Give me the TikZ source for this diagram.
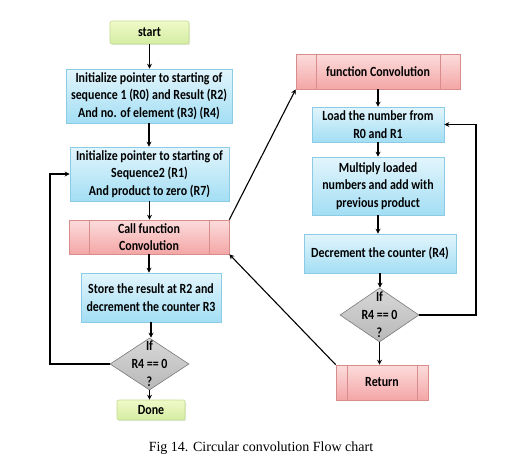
\documentclass[tikz,border=0pt]{standalone}
\usepackage{fontspec}
\setmainfont{Liberation Serif}
\newfontfamily\boxfont{Carlito}[FakeStretch=0.85]
\usetikzlibrary{shapes.geometric,arrows.meta,shadows}
\definecolor{blueT}{HTML}{E2F5FC}
\definecolor{blueB}{HTML}{A3DEF4}
\definecolor{blueD}{HTML}{8CCBE6}
\definecolor{pinkT}{HTML}{FCDCDC}
\definecolor{pinkB}{HTML}{F4A6A6}
\definecolor{pinkD}{HTML}{D98C8C}
\definecolor{greenT}{HTML}{F0F9C8}
\definecolor{greenB}{HTML}{D4EDA2}
\definecolor{greenD}{HTML}{C2DC8E}
\definecolor{grayT}{HTML}{D8D8D8}
\definecolor{grayB}{HTML}{B8B8B8}
\definecolor{grayD}{HTML}{7A7A7A}
\begin{document}
\begin{tikzpicture}[x=1pt,y=-1pt,
  boxtext/.style={font=\boxfont\bfseries\fontsize{14}{17.7}\selectfont, align=center, inner sep=0pt, text=black},
  shad/.style={drop shadow={opacity=0.18, shadow xshift=1.2pt, shadow yshift=-1.2pt}},
  bluebox/.style={boxtext, rectangle, draw=blueD, line width=0.6pt, top color=blueT, bottom color=blueB, shad},
  pinkbox/.style={boxtext, rectangle, draw=pinkD, line width=0.6pt, top color=pinkT, bottom color=pinkB, shad},
  greenbox/.style={boxtext, rectangle, rounded corners=2pt, draw=greenD, line width=0.6pt, top color=greenT, bottom color=greenB, shad},
  decide/.style={diamond, draw=grayD, line width=0.6pt, top color=grayT, bottom color=grayB, inner sep=0pt, aspect=1.5},
  dtext/.style={boxtext, font=\boxfont\bfseries\fontsize{14}{18}\selectfont},
  pinkline/.style={draw=pinkD, line width=0.6pt},
  arr/.style={draw=black, line width=1.1pt, -{Stealth[length=5pt,width=5pt]}},
  conn/.style={draw=black, line width=1.1pt}
]
\useasboundingbox (0,0) rectangle (527,458);

% left column
\node[greenbox, minimum width=79pt, minimum height=23pt] (start) at (149.5,32.5) {start};
\node[bluebox, minimum width=166pt, minimum height=54pt] (i1) at (149,96)
  {Initialize pointer to starting of\\sequence 1 (R0) and Result (R2)\\And no. of element (R3) (R4)};
\node[bluebox, minimum width=159pt, minimum height=54pt] (i2) at (149.5,174)
  {Initialize pointer to starting of\\Sequence2 (R1)\\And product to zero (R7)};
\node[pinkbox, minimum width=160pt, minimum height=34pt] (cf) at (149,237)
  {Call function\\Convolution};
\node[bluebox, minimum width=140pt, minimum height=49pt] (st) at (151,297.5)
  {Store the result at R2 and\\decrement the counter R3};
\node[decide, minimum width=79pt, minimum height=52pt] (d1) at (149.5,364) {};
\node[dtext] (d1t) at (d1.center) {If\\R4 == 0\\?};
\node[greenbox, minimum width=68pt, minimum height=20pt] (done) at (151,410) {Done};

% right column
\node[pinkbox, minimum width=164pt, minimum height=35pt] (fc) at (378,71.5) {function Convolution};
\node[bluebox, minimum width=132pt, minimum height=35pt] (ld) at (378,124.5)
  {Load the number from\\R0 and R1};
\node[bluebox, minimum width=132pt, minimum height=58pt] (mu) at (378,186)
  {Multiply loaded\\numbers and add with\\previous product};
\node[bluebox, minimum width=152pt, minimum height=39pt] (dc) at (380,253.5)
  {Decrement the counter (R4)};
\node[decide, minimum width=79pt, minimum height=54pt] (d2) at (379.5,315) {};
\node[dtext] (d2t) at (d2.center) {If\\R4 == 0\\?};
\node[pinkbox, minimum width=92pt, minimum height=35pt] (rt) at (382,382.5) {Return};

% pink box inner lines
\draw[pinkline] ([xshift=21pt]cf.north west) -- ([xshift=21pt]cf.south west);
\draw[pinkline] ([xshift=-20pt]cf.north east) -- ([xshift=-20pt]cf.south east);
\draw[pinkline] ([xshift=21pt]fc.north west) -- ([xshift=21pt]fc.south west);
\draw[pinkline] ([xshift=-20pt]fc.north east) -- ([xshift=-20pt]fc.south east);
\draw[pinkline] ([xshift=12pt]rt.north west) -- ([xshift=12pt]rt.south west);
\draw[pinkline] ([xshift=-11pt]rt.north east) -- ([xshift=-11pt]rt.south east);

% vertical arrows left
\draw[arr] (start.south) -- (start.south |- i1.north);
\draw[arr] (i1.south) -- (i1.south |- i2.north);
\draw[arr] (i2.south) -- (i2.south |- cf.north);
\draw[arr] (cf.south) -- (cf.south |- st.north);
\draw[arr] (st.south) -- (st.south |- d1.north);
\draw[arr] (d1.south) -- (d1.south |- done.north);

% vertical arrows right
\draw[arr] (fc.south) -- (fc.south |- ld.north);
\draw[arr] (ld.south) -- (ld.south |- mu.north);
\draw[arr] (mu.south) -- (mu.south |- dc.north);
\draw[arr] (dc.south) -- (dc.south |- d2.north);
\draw[arr] (d2.south) -- (d2.south |- rt.north);

% loops
\coordinate (ll) at (50,364);
\draw[arr] (d1.west) -- (ll) |- (i2.west);
\coordinate (rl) at (476,315);
\draw[arr] (d2.east) -- (rl) |- (ld.east);

% diagonals
\draw[arr] (cf.north east) -- (fc.south west);
\draw[arr] (rt.north west) -- (cf.south east);

% caption
\node[font=\fontsize{14}{16}\selectfont, inner sep=0pt] (cap) at (261,448) {Fig 14. Circular convolution Flow chart};
\end{tikzpicture}
\end{document}
